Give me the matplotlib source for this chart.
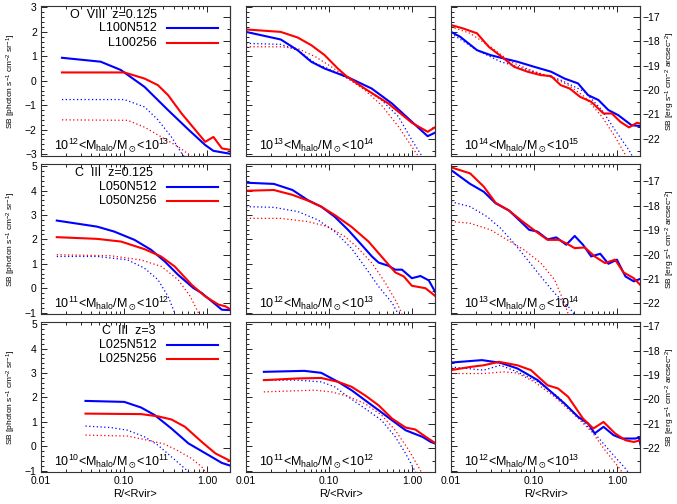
import matplotlib
matplotlib.use("Agg")
import matplotlib.pyplot as plt
from matplotlib.ticker import FixedLocator, LogLocator, MultipleLocator, NullFormatter

plt.rcParams['font.family'] = ['Liberation Sans', 'DejaVu Sans']
plt.rcParams['mathtext.fontset'] = 'custom'
plt.rcParams['mathtext.rm'] = 'Liberation Sans'
plt.rcParams['mathtext.it'] = 'Liberation Sans:italic'
plt.rcParams['mathtext.bf'] = 'Liberation Sans:bold'
plt.rcParams['mathtext.fallback'] = 'stixsans'

# ---------------- row 1: O VIII z=0.125 ----------------
# 1e12-1e13
a1_blue_R = [0.0179, 0.0524, 0.0918, 0.177, 0.34, 0.6, 0.955, 1.2, 2.0]
a1_blue_SB = [0.94, 0.78, 0.44, -0.25, -1.2, -2.0, -2.63, -2.87, -3.0]
a1_red_R = [0.0179, 0.101, 0.177, 0.257, 0.341, 0.496, 0.955, 1.2, 1.52, 2.0]
a1_red_SB = [0.34, 0.34, 0.09, -0.18, -0.59, -1.34, -2.5, -2.3, -2.77, -2.84]
a1_blue_dot_R = [0.0179, 0.101, 0.177, 0.257, 0.374, 0.496, 0.56]
a1_blue_dot_SB = [-0.77, -0.77, -1.07, -1.6, -2.3, -2.97, -3.2]
a1_red_dot_R = [0.0179, 0.111, 0.177, 0.283, 0.451, 0.656]
a1_red_dot_SB = [-1.6, -1.62, -1.9, -2.3, -2.7, -3.1]

# 1e13-1e14
b1_blue_R = [0.01, 0.0262, 0.0419, 0.061, 0.0886, 0.17, 0.328, 0.575, 1.0, 1.55, 2.0]
b1_blue_SB = [2.0, 1.69, 1.25, 0.78, 0.5, 0.14, -0.32, -0.93, -1.68, -2.27, -2.09]
b1_red_R = [0.01, 0.0262, 0.0419, 0.061, 0.0886, 0.128, 0.162, 0.27, 0.52, 1.0, 1.55, 2.0]
b1_red_SB = [2.1, 2.0, 1.77, 1.46, 1.05, 0.5, 0.19, -0.32, -0.93, -1.72, -2.09, -1.86]
b1_blue_dot_R = [0.01, 0.0262, 0.0419, 0.069, 0.107, 0.17, 0.27, 0.43, 0.69, 1.0, 1.33]
b1_blue_dot_SB = [1.53, 1.49, 1.25, 0.71, 0.44, 0.09, -0.32, -0.79, -1.47, -2.43, -3.1]
b1_red_dot_R = [0.01, 0.0262, 0.0419, 0.069, 0.107, 0.17, 0.27, 0.43, 0.69, 1.0, 1.2]
b1_red_dot_SB = [1.39, 1.39, 1.32, 0.98, 0.57, 0.09, -0.38, -1.0, -1.88, -2.7, -3.1]

# 1e14-1e15
c1_blue_R = [0.01, 0.0129, 0.0206, 0.0299, 0.0434, 0.063, 0.101, 0.161, 0.234, 0.34,
             0.45, 0.6, 0.79, 1.04, 1.5, 2.0]
c1_blue_SB = [2.0, 1.8, 1.25, 1.05, 0.91, 0.78, 0.57, 0.37, 0.09, -0.11,
              -0.59, -0.79, -1.2, -1.41, -1.82, -1.86]
c1_red_R = [0.01, 0.014, 0.0206, 0.0285, 0.0434, 0.0576, 0.0836, 0.121, 0.161, 0.21,
            0.27, 0.36, 0.49, 0.69, 0.87, 1.1, 1.4, 1.75, 2.0]
c1_red_SB = [2.28, 2.14, 1.94, 1.39, 0.91, 0.57, 0.37, 0.23, 0.19, -0.18,
             -0.32, -0.66, -0.86, -1.34, -1.34, -1.68, -1.91, -1.72, -1.77]
c1_blue_dot_R = [0.01, 0.0206, 0.0396, 0.101, 0.21, 0.41, 0.66, 0.95, 1.4, 1.6]
c1_blue_dot_SB = [1.94, 1.25, 0.78, 0.37, 0.03, -0.45, -1.2, -2.02, -2.84, -3.2]
c1_red_dot_R = [0.01, 0.017, 0.0299, 0.052, 0.101, 0.161, 0.26, 0.41, 0.66, 0.95, 1.3]
c1_red_dot_SB = [2.21, 1.94, 1.39, 0.78, 0.37, 0.16, -0.18, -0.66, -1.47, -2.29, -3.1]

# ---------------- row 2: C III z=0.125 ----------------
# 1e11-1e12
a2_blue_R = [0.0155, 0.0477, 0.0762, 0.134, 0.213, 0.31, 0.45, 0.687, 0.87, 1.15, 1.52, 2.0]
a2_blue_SB = [2.77, 2.52, 2.32, 1.98, 1.57, 1.1, 0.55, 0.01, -0.2, -0.54, -0.88, -0.9]
a2_red_R = [0.0155, 0.0477, 0.0922, 0.177, 0.28, 0.41, 0.656, 0.95, 1.38, 1.67, 2.0]
a2_red_SB = [2.09, 2.02, 1.91, 1.6, 1.3, 0.89, 0.14, -0.33, -0.67, -0.74, -0.9]
a2_blue_dot_R = [0.0155, 0.0477, 0.111, 0.177, 0.257, 0.34, 0.41]
a2_blue_dot_SB = [1.3, 1.3, 1.16, 0.82, 0.35, -0.33, -1.01]
a2_red_dot_R = [0.0155, 0.069, 0.16, 0.283, 0.45, 0.63, 0.8]
a2_red_dot_SB = [1.37, 1.33, 1.16, 0.89, 0.35, -0.33, -1.04]

# 1e12-1e13
b2_blue_R = [0.01, 0.0217, 0.0364, 0.0554, 0.0806, 0.117, 0.17, 0.247, 0.33, 0.397,
             0.52, 0.63, 0.76, 1.0, 1.27, 1.6, 2.0]
b2_blue_SB = [4.32, 4.27, 4.02, 3.61, 3.34, 2.93, 2.39, 1.78, 1.3, 1.05,
              0.92, 0.76, 0.76, 0.41, 0.5, 0.32, -0.27]
b2_red_R = [0.01, 0.0217, 0.0364, 0.0554, 0.0806, 0.117, 0.186, 0.3, 0.43, 0.63,
            0.8, 1.0, 1.46, 2.0]
b2_red_SB = [3.99, 4.02, 3.82, 3.59, 3.34, 3.0, 2.52, 1.91, 1.3, 0.65,
             0.48, 0.1, 0.0, -0.37]
b2_blue_dot_R = [0.01, 0.0217, 0.042, 0.0734, 0.117, 0.186, 0.27, 0.397, 0.58, 0.69]
b2_blue_dot_SB = [3.34, 3.31, 3.14, 2.8, 2.32, 1.64, 0.89, 0.07, -0.61, -1.08]
b2_red_dot_R = [0.01, 0.026, 0.0554, 0.0973, 0.155, 0.225, 0.33, 0.48, 0.63, 0.76]
b2_red_dot_SB = [2.86, 2.86, 2.73, 2.52, 2.12, 1.64, 1.03, 0.21, -0.47, -1.04]

# 1e13-1e14
c2_blue_R = [0.01, 0.017, 0.0248, 0.0344, 0.05, 0.063, 0.0877, 0.11, 0.146, 0.186,
             0.245, 0.31, 0.39, 0.49, 0.63, 0.79, 1.0, 1.27, 1.6, 2.0]
c2_blue_SB = [4.84, 4.27, 3.95, 3.48, 3.18, 2.86, 2.39, 2.32, 2.0, 2.08,
              1.78, 2.14, 1.78, 1.3, 1.41, 1.0, 1.17, 0.48, 0.28, 0.41]
c2_red_R = [0.01, 0.017, 0.0248, 0.0344, 0.05, 0.073, 0.106, 0.146, 0.2, 0.245,
            0.31, 0.41, 0.54, 0.72, 0.95, 1.2, 1.6, 2.0]
c2_red_SB = [4.95, 4.7, 4.16, 3.5, 3.18, 2.73, 2.32, 1.98, 1.98, 1.84,
             1.64, 1.67, 1.3, 1.03, 1.17, 0.65, 0.41, 0.07]
c2_blue_dot_R = [0.01, 0.017, 0.0272, 0.0394, 0.0576, 0.0837, 0.121, 0.177, 0.258, 0.31]
c2_blue_dot_SB = [3.54, 3.34, 2.93, 2.46, 1.84, 1.16, 0.48, -0.2, -0.74, -1.08]
c2_red_dot_R = [0.01, 0.017, 0.03, 0.0476, 0.076, 0.121, 0.177, 0.234, 0.26]
c2_red_dot_SB = [2.73, 2.66, 2.39, 1.98, 1.57, 1.03, 0.35, -0.61, -1.08]

# ---------------- row 3: C III z=3 ----------------
# 1e10-1e11
a3_blue_R = [0.0344, 0.101, 0.161, 0.235, 0.374, 0.6, 1.05, 1.52, 2.0]
a3_blue_SB = [1.86, 1.82, 1.59, 1.28, 0.73, 0.12, -0.36, -0.68, -0.81]
a3_red_R = [0.0344, 0.161, 0.257, 0.374, 0.545, 0.87, 1.27, 2.0]
a3_red_SB = [1.34, 1.32, 1.23, 1.1, 0.8, 0.18, -0.29, -0.63]
a3_blue_dot_R = [0.0344, 0.069, 0.111, 0.177, 0.257, 0.374, 0.544, 0.69]
a3_blue_dot_SB = [0.83, 0.77, 0.66, 0.39, 0.05, -0.43, -0.91, -1.25]
a3_red_dot_R = [0.0344, 0.111, 0.194, 0.31, 0.45, 0.656, 0.87, 1.05]
a3_red_dot_SB = [0.46, 0.42, 0.25, 0.09, -0.18, -0.5, -0.84, -1.25]

# 1e11-1e12
b3_blue_R = [0.0164, 0.0505, 0.0806, 0.129, 0.187, 0.272, 0.397, 0.575, 0.84, 1.05,
             1.34, 1.69, 2.0]
b3_blue_SB = [3.05, 3.09, 3.01, 2.64, 2.3, 1.89, 1.48, 1.07, 0.66, 0.53,
              0.39, 0.18, 0.09]
b3_red_R = [0.0164, 0.0418, 0.0806, 0.129, 0.187, 0.272, 0.397, 0.575, 0.84, 1.1, 1.47, 2.0]
b3_red_SB = [2.71, 2.78, 2.8, 2.64, 2.44, 2.09, 1.68, 1.14, 0.77, 0.69, 0.39, 0.09]
b3_blue_dot_R = [0.0164, 0.0418, 0.0806, 0.117, 0.17, 0.272, 0.43, 0.63, 0.84, 1.05, 1.2]
b3_blue_dot_SB = [2.71, 2.71, 2.64, 2.44, 2.03, 1.55, 1.07, 0.39, -0.29, -0.91, -1.25]
b3_red_dot_R = [0.0164, 0.0668, 0.107, 0.17, 0.272, 0.43, 0.63, 0.92, 1.2, 1.4]
b3_red_dot_SB = [2.23, 2.3, 2.23, 2.05, 1.75, 1.28, 0.66, -0.16, -0.84, -1.25]

# 1e12-1e13
c3_blue_R = [0.01, 0.0236, 0.0394, 0.063, 0.111, 0.161, 0.234, 0.34, 0.45, 0.54,
             0.69, 0.91, 1.15, 1.67, 1.84, 2.0]
c3_blue_SB = [3.43, 3.53, 3.42, 3.19, 2.71, 2.23, 1.75, 1.21, 0.93, 0.53,
              0.8, 0.46, 0.32, 0.32, 0.36, -0.16]
c3_red_R = [0.01, 0.017, 0.0248, 0.0378, 0.063, 0.092, 0.146, 0.195, 0.258, 0.39,
            0.52, 0.69, 0.95, 1.27, 1.6, 1.94, 2.0]
c3_red_SB = [3.12, 3.25, 3.32, 3.46, 3.32, 3.12, 2.5, 2.37, 2.03, 1.14,
             0.73, 1.0, 0.53, 0.25, 0.18, 0.25, -0.29]
c3_blue_dot_R = [0.01, 0.0248, 0.0394, 0.063, 0.111, 0.195, 0.34, 0.54, 0.87, 1.27, 1.5]
c3_blue_dot_SB = [3.25, 3.12, 3.32, 3.05, 2.64, 2.03, 1.21, 0.53, -0.29, -0.91, -1.25]
c3_red_dot_R = [0.01, 0.0248, 0.0434, 0.063, 0.101, 0.177, 0.31, 0.5, 0.72, 1.04, 1.27]
c3_red_dot_SB = [2.98, 2.98, 3.05, 3.0, 2.64, 2.03, 1.28, 0.59, -0.16, -0.84, -1.25]

panels = [
    [(a1_blue_R, a1_blue_SB, a1_red_R, a1_red_SB, a1_blue_dot_R, a1_blue_dot_SB, a1_red_dot_R, a1_red_dot_SB),
     (b1_blue_R, b1_blue_SB, b1_red_R, b1_red_SB, b1_blue_dot_R, b1_blue_dot_SB, b1_red_dot_R, b1_red_dot_SB),
     (c1_blue_R, c1_blue_SB, c1_red_R, c1_red_SB, c1_blue_dot_R, c1_blue_dot_SB, c1_red_dot_R, c1_red_dot_SB)],
    [(a2_blue_R, a2_blue_SB, a2_red_R, a2_red_SB, a2_blue_dot_R, a2_blue_dot_SB, a2_red_dot_R, a2_red_dot_SB),
     (b2_blue_R, b2_blue_SB, b2_red_R, b2_red_SB, b2_blue_dot_R, b2_blue_dot_SB, b2_red_dot_R, b2_red_dot_SB),
     (c2_blue_R, c2_blue_SB, c2_red_R, c2_red_SB, c2_blue_dot_R, c2_blue_dot_SB, c2_red_dot_R, c2_red_dot_SB)],
    [(a3_blue_R, a3_blue_SB, a3_red_R, a3_red_SB, a3_blue_dot_R, a3_blue_dot_SB, a3_red_dot_R, a3_red_dot_SB),
     (b3_blue_R, b3_blue_SB, b3_red_R, b3_red_SB, b3_blue_dot_R, b3_blue_dot_SB, b3_red_dot_R, b3_red_dot_SB),
     (c3_blue_R, c3_blue_SB, c3_red_R, c3_red_SB, c3_blue_dot_R, c3_blue_dot_SB, c3_red_dot_R, c3_red_dot_SB)],
]

row_titles = ["O  VIII  z=0.125", "C  III  z=0.125", "C  III  z=3"]
row_title_x = [0.153, 0.18, 0.323]
row_hi_labels = ["L100N512", "L050N512", "L025N512"]
row_lo_labels = ["L100256", "L050N256", "L025N256"]
row_ylims = [(-3.07, 3.06), (-1.05, 5.08), (-1.05, 5.08)]
row_offsets = [-19.62, -21.38, -21.92]   # photon units -> erg arcsec^-2
mass_bins = [[(12, 13), (13, 14), (14, 15)],
             [(11, 12), (12, 13), (13, 14)],
             [(10, 11), (11, 12), (12, 13)]]

x_ticks = [0.01, 0.1, 1.0]
x_ticklabels = ["0.01", "0.10", "1.00"]

fig, axes = plt.subplots(3, 3, figsize=(6.77, 5.04), dpi=100)
fig.subplots_adjust(left=41/677, right=640/677, top=1-6/504, bottom=1-472/504,
                    wspace=0.085, hspace=0.056)

for i in range(3):
    for j in range(3):
        ax = axes[i, j]
        bR, bS, rR, rS, bdR, bdS, rdR, rdS = panels[i][j]
        ax.plot(bdR, bdS, color='blue', lw=0.9, ls=(0, (1, 2)))
        ax.plot(rdR, rdS, color='red', lw=0.9, ls=(0, (1, 2)))
        ax.plot(bR, bS, color='blue', lw=1.5)
        ax.plot(rR, rS, color='red', lw=1.5)

        ax.set_xscale('log')
        ax.set_xlim(0.01, 1.9)
        ax.set_ylim(*row_ylims[i])
        ax.xaxis.set_major_locator(FixedLocator(x_ticks))
        ax.xaxis.set_minor_locator(LogLocator(base=10, subs=range(2, 10)))
        ax.xaxis.set_minor_formatter(NullFormatter())
        if i == 2:
            ax.set_xticklabels(x_ticklabels)
            ax.set_xlabel("R/<Rvir>", fontsize=8, labelpad=2)
        else:
            ax.set_xticklabels([])
        ax.yaxis.set_major_locator(MultipleLocator(1))
        ax.yaxis.set_minor_locator(MultipleLocator(0.2))
        if j != 0:
            ax.set_yticklabels([])
        else:
            ax.set_ylabel(r"SB [photon s$^{-1}$ cm$^{-2}$ sr$^{-1}$]", fontsize=6, labelpad=5)
        ax.tick_params(which='both', direction='in', top=True, right=False, labelsize=7.5,
                       width=0.6, pad=3)
        ax.tick_params(which='major', length=4)
        ax.tick_params(which='minor', length=2)
        for s in ax.spines.values():
            s.set_linewidth(0.8)
            s.set_color('#333333')

        off = row_offsets[i]
        sec = ax.secondary_yaxis('right', functions=(lambda v, o=off: v + o, lambda v, o=off: v - o))
        sec.yaxis.set_major_locator(MultipleLocator(1))
        sec.yaxis.set_minor_locator(MultipleLocator(0.5))
        sec.tick_params(which='both', direction='in', labelsize=7.5, width=0.6, pad=1.5)
        sec.tick_params(which='major', length=5)
        sec.tick_params(which='minor', length=2.5)
        sec.spines['right'].set_linewidth(0.8)
        sec.spines['right'].set_color('#333333')
        if j != 2:
            sec.set_yticklabels([])
        else:
            sec.set_ylabel(r"SB [erg s$^{-1}$ cm$^{-2}$ arcsec$^{-2}$]", fontsize=6, labelpad=3)

        lo, hi = mass_bins[i][j]
        ax.text(0.07, 0.067, r"10$^{%d}$<M$_{\rm halo}$/M$_\odot$<10$^{%d}$" % (lo, hi),
                transform=ax.transAxes, fontsize=9, ha='left', va='center')

        if j == 0:
            ax.text(row_title_x[i], 0.94, row_titles[i], transform=ax.transAxes,
                    fontsize=9, ha='left', va='center')
            ax.text(0.614, 0.85, row_hi_labels[i], transform=ax.transAxes,
                    fontsize=9, ha='right', va='center')
            ax.text(0.614, 0.755, row_lo_labels[i], transform=ax.transAxes,
                    fontsize=9, ha='right', va='center')
            ax.plot([0.667, 0.937], [0.85, 0.85], color='blue', lw=1.5, transform=ax.transAxes)
            ax.plot([0.667, 0.937], [0.755, 0.755], color='red', lw=1.5, transform=ax.transAxes)

fig.savefig('out.png', dpi=100)
